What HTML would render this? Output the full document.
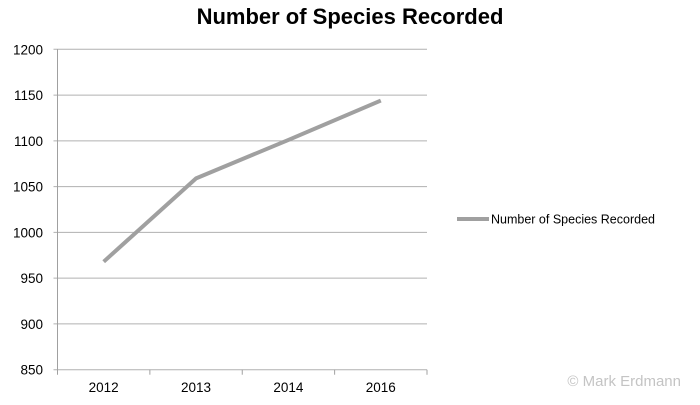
<!DOCTYPE html>
<html><head><meta charset="utf-8"><style>
body{margin:0;background:#fff;}
svg text{font-family:"Liberation Sans",sans-serif;}
</style></head><body>
<svg width="700" height="400" xmlns="http://www.w3.org/2000/svg">
<text x="350" y="24" text-anchor="middle" font-size="22" font-weight="bold" fill="#000">Number of Species Recorded</text>
<g id="grid"></g><g id="axes"></g><g id="series"></g>
<line x1="457" y1="219" x2="489" y2="219" stroke="#a0a0a0" stroke-width="4"/>
<text x="491" y="223.5" font-size="12.5" fill="#000">Number of Species Recorded</text>
<text x="681" y="386" text-anchor="end" font-size="15" fill="#c4c4c4">© Mark Erdmann</text>
</svg>
<script>
const categories=["2012","2013","2014","2016"];
const speciesValues=[968,1059,1101,1144];
const yTicks=[850,900,950,1000,1050,1100,1150,1200];
const NS="http://www.w3.org/2000/svg";
const X0=57.5,X1=427,Y0=369.7,Y1=49.3,yMin=850,yMax=1200;
const bw=(X1-X0)/categories.length;
function xPos(i){return X0+bw*(i+0.5);}
function yPos(v){return Y0-(v-yMin)/(yMax-yMin)*(Y0-Y1);}
function mk(tag,attrs,parent){const e=document.createElementNS(NS,tag);for(const k in attrs)e.setAttribute(k,attrs[k]);parent.appendChild(e);return e;}
const grid=document.getElementById('grid'),axes=document.getElementById('axes'),series=document.getElementById('series');
yTicks.forEach(t=>{
  const y=yPos(t);
  const l=mk('line',{x1:X0-4,x2:X1,y1:y,y2:y,stroke:'#b0b0b0','stroke-width':1},grid);
  
  
  const tx=mk('text',{x:43,y:y+5,'text-anchor':'end','font-size':'13.5',fill:'#000'},axes);
  tx.textContent=t;
  
  
});
const ya=mk('line',{x1:X0,x2:X0,y1:Y1,y2:Y0,stroke:'#a0a0a0','stroke-width':1},axes);


for(let i=0;i<=categories.length;i++){
  const x=X0+bw*i;
  const tk=mk('line',{x1:x,x2:x,y1:Y0,y2:Y0+5,stroke:'#a0a0a0'},axes);
  
  
}
categories.forEach((c,i)=>{
  const tx=mk('text',{x:xPos(i),y:392,'text-anchor':'middle','font-size':'13.5',fill:'#000'},axes);
  tx.textContent=c;
  
  
});
const pts=speciesValues.map((v,i)=>xPos(i)+','+yPos(v)).join(' ');
const pl=mk('polyline',{points:pts,fill:'none',stroke:'#a0a0a0','stroke-width':4,'stroke-linejoin':'round'},series);


</script>
</body></html>
